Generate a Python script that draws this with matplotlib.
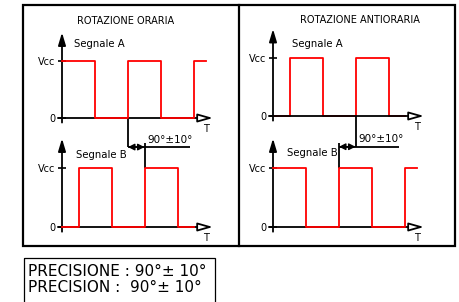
import matplotlib
matplotlib.use('Agg')
import matplotlib.pyplot as plt
from matplotlib.patches import Rectangle

# signal edges, in quarter periods (1 unit = 90 degrees); levels 1 = Vcc, 0 = 0
t_a_cw = [0, 2, 4, 6, 8, 8.7]
a_cw = [1, 0, 1, 0, 1, 1]
t_b_cw = [0, 1, 3, 5, 7, 8]
b_cw = [0, 1, 0, 1, 0, 0]

t_a_ccw = [0, 1, 3, 5, 7, 8]
a_ccw = [0, 1, 0, 1, 0, 0]
t_b_ccw = [0, 2, 4, 6, 8, 8.7]
b_ccw = [1, 0, 1, 0, 1, 1]

titles = ['ROTAZIONE ORARIA', 'ROTAZIONE ANTIORARIA']
signal_names = ['Segnale A', 'Segnale B']
level_labels = ['0', 'Vcc']
phase_text = '90°±10°'
precision_lines = ['PRECISIONE : 90°± 10°', 'PRECISION :  90°± 10°']

W, H = 459, 302
fig = plt.figure(figsize=(W / 100, H / 100), dpi=100)

bg = fig.add_axes([0, 0, 1, 1])
bg.set_xlim(0, W)
bg.set_ylim(H, 0)
bg.axis('off')

Q = 16.5  # px per quarter period
XLIM = (-0.3, 9.3)
YLIM = (-0.35, 1.55)
LW = 1.3


def signal_axes(x0, y0, vpx):
    left = x0 + XLIM[0] * Q
    right = x0 + XLIM[1] * Q
    top = y0 - YLIM[1] * vpx
    bottom = y0 - YLIM[0] * vpx
    ax = fig.add_axes([left / W, 1 - bottom / H, (right - left) / W, (bottom - top) / H])
    ax.set_xlim(*XLIM)
    ax.set_ylim(*YLIM)
    ax.patch.set_visible(False)
    for s in ['top', 'right', 'bottom']:
        ax.spines[s].set_visible(False)
    ax.spines['left'].set_position(('data', 0))
    ax.spines['left'].set_visible(False)
    ax.set_xticks([])
    ax.set_yticks([0, 1], level_labels)
    ax.tick_params(axis='y', direction='inout', length=6, width=1.2, pad=2, labelsize=7)
    ax.annotate('', xy=(0, 1.5), xytext=(0, -0.08),
                arrowprops=dict(arrowstyle='-|>,head_length=0.5,head_width=0.15',
                                color='black', lw=LW, mutation_scale=15, shrinkA=0, shrinkB=0))
    ax.annotate('', xy=(9.15, 0), xytext=(-0.25, 0),
                arrowprops=dict(arrowstyle='-|>,head_length=0.6,head_width=0.17',
                                fc='white', ec='black', lw=LW, mutation_scale=15,
                                shrinkA=0, shrinkB=0), zorder=3)
    ax.text(8.7, -0.1, 'T', ha='center', va='top', fontsize=7)
    return ax


def phase_marker(ax_top, ax_bot, t_top, t_bot, y_line, y_stub, t_end):
    kw = dict(color='black', lw=LW, clip_on=False, solid_capstyle='butt')
    ax_top.plot([t_top, t_top], [0, y_line], **kw)
    ax_top.plot([min(t_top, t_bot), t_end], [y_line, y_line], **kw)
    ax_bot.plot([t_bot, t_bot], [1, y_stub], **kw)
    ax_top.annotate('', xy=(t_top, y_line), xytext=(t_bot, y_line), annotation_clip=False,
                    arrowprops=dict(arrowstyle='<|-|>,head_length=0.55,head_width=0.28',
                                    color='black', lw=1.0, mutation_scale=7,
                                    shrinkA=0, shrinkB=0))
    ax_top.text(max(t_top, t_bot) + 0.2, y_line + 0.04, phase_text, ha='left', va='bottom',
                fontsize=7.5, clip_on=False)


# clockwise panel
la = signal_axes(62, 118, 57)
lb = signal_axes(62, 227, 59)
la.step(t_a_cw, a_cw, where='post', color='red', lw=LW, clip_on=False, zorder=4)
lb.step(t_b_cw, b_cw, where='post', color='red', lw=LW, clip_on=False, zorder=4)
la.text(0.73, 1.3, signal_names[0], fontsize=7.3, va='center')
lb.text(0.85, 1.22, signal_names[1], fontsize=7.3, va='center')
phase_marker(la, lb, 4, 5, -0.51, 1.42, 7.76)

# counter-clockwise panel
ra = signal_axes(273, 116, 58)
rb = signal_axes(273, 227, 59)
ra.step(t_a_ccw, a_ccw, where='post', color='red', lw=LW, clip_on=False, zorder=2)
rb.step(t_b_ccw, b_ccw, where='post', color='red', lw=LW, clip_on=False, zorder=4)
ra.text(1.15, 1.24, signal_names[0], fontsize=7.3, va='center')
rb.text(0.85, 1.25, signal_names[1], fontsize=7.3, va='center')
phase_marker(ra, rb, 5, 4, -0.53, 1.42, 7.64)

# frames and titles
bg.add_patch(Rectangle((23, 5), 432, 241, fill=False, lw=1.6, ec='black'))
bg.plot([239, 239], [5, 246], color='black', lw=1.6)
bg.text(126, 21, titles[0], ha='center', va='center', fontsize=7)
bg.text(360, 20, titles[1], ha='center', va='center', fontsize=7)

bg.add_patch(Rectangle((24, 258), 191, 60, fill=False, lw=0.9, ec='black', clip_on=False))
bg.text(28, 271, precision_lines[0], ha='left', va='center', fontsize=11)
bg.text(28, 288, precision_lines[1], ha='left', va='center', fontsize=11)

fig.savefig('out.png', dpi=100)
